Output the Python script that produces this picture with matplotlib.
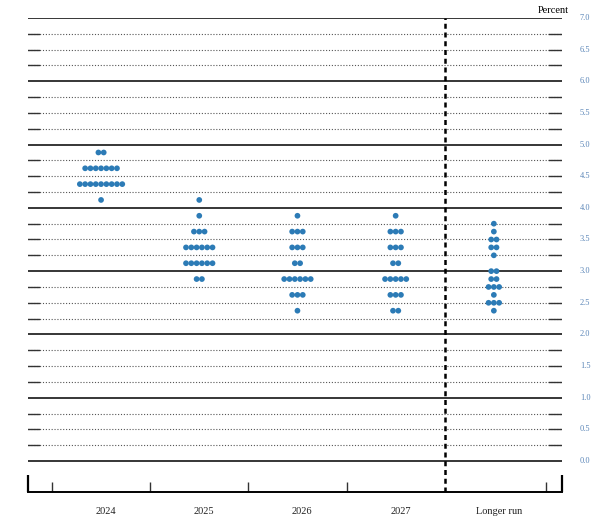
import numpy as np
import matplotlib.pyplot as plt

# dot counts per midpoint
categories = ["2024", "2025", "2026", "2027", "Longer run"]
rate_2024 = {4.875: 2, 4.625: 7, 4.375: 9, 4.125: 1}
rate_2025 = {4.125: 1, 3.875: 1, 3.625: 3, 3.375: 6, 3.125: 6, 2.875: 2}
rate_2026 = {3.875: 1, 3.625: 3, 3.375: 3, 3.125: 2, 2.875: 6, 2.625: 3, 2.375: 1}
rate_2027 = {3.875: 1, 3.625: 3, 3.375: 3, 3.125: 2, 2.875: 5, 2.625: 3, 2.375: 2}
rate_longer = {3.75: 1, 3.625: 1, 3.5: 2, 3.375: 2, 3.25: 1, 3.0: 2,
               2.875: 2, 2.75: 3, 2.625: 1, 2.5: 3, 2.375: 1}
series = [rate_2024, rate_2025, rate_2026, rate_2027, rate_longer]
ytick_vals = np.arange(0, 7.01, 0.5)

dot_color = "#2c7bb6"
label_color = "#5b86b8"
serif = ["Liberation Serif", "DejaVu Serif"]

fig = plt.figure(figsize=(6.08, 5.26), dpi=100)
ax = fig.add_axes([0.0467, 0.0646, 0.877, 0.9012])
ax.set_xlim(-0.74, 4.69)
ax.set_ylim(-0.49, 7.0)

# horizontal guide lines
for k in range(29):
    y = k * 0.25
    if k % 4 == 0:
        ax.axhline(y, color="black", lw=1.1, zorder=1)
    else:
        ax.axhline(y, color="#555555", lw=0.8, ls=(0, (1, 1.6)), zorder=1)
        ax.plot([-0.74, -0.63], [y, y], color="#333333", lw=1.0, zorder=1)
        ax.plot([4.56, 4.69], [y, y], color="#333333", lw=1.0, zorder=1)

# separator before longer run
ax.axvline(3.5, color="black", lw=1.8, ls=(0, (2, 1.5)), zorder=2)

# dots
step = 0.054
for i, counts in enumerate(series):
    for rate, n in counts.items():
        xs = i + (np.arange(n) - (n - 1) / 2) * step
        ax.scatter(xs, [rate] * n, s=17, color=dot_color, edgecolors="none", zorder=3)

# axis frame
for side in ["top", "right", "left"]:
    ax.spines[side].set_visible(False)
ax.spines["bottom"].set_linewidth(1.4)
ax.set_yticks([])
ax.set_xticks([-0.74, 4.69])
ax.set_xticklabels([])
ax.tick_params(axis="x", direction="in", length=12, width=1.6, color="black")
ax.set_xticks([-0.5, 0.5, 1.5, 2.5, 4.53], minor=True)
ax.tick_params(axis="x", which="minor", direction="in", length=7, width=1.0, color="#333333")

for i, name in enumerate(categories):
    ax.text(i + 0.05, -0.8, name, ha="center", va="center", fontsize=7.5,
            family=serif, color="#222222")

for y in ytick_vals:
    ax.text(4.93, y, f"{y:.1f}", ha="center", va="center", fontsize=6,
            family=serif, color=label_color, clip_on=False)
ax.text(4.61, 7.12, "Percent", ha="center", va="center", fontsize=7.5,
        family=serif, color="black")

fig.savefig("out.png", dpi=100)
